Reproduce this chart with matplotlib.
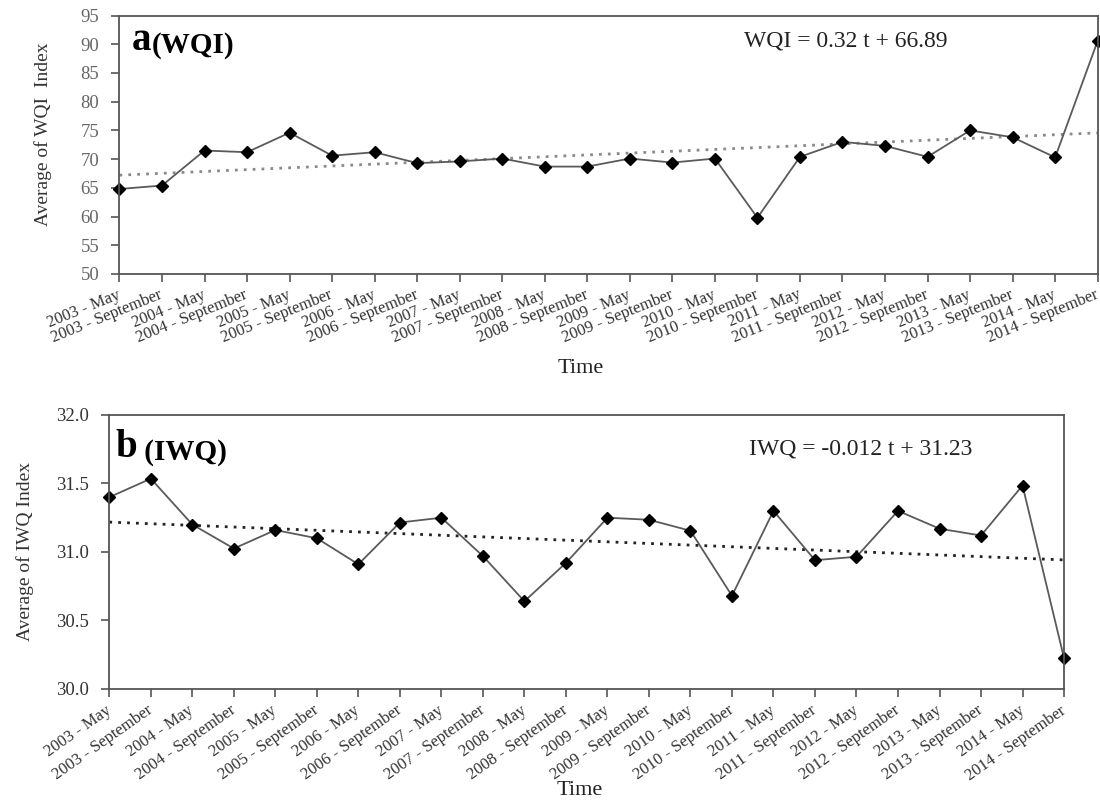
"""Average WQI and IWQ index per sampling campaign, 2003-2014, with linear trends."""

import matplotlib
matplotlib.use("Agg")
import matplotlib.pyplot as plt
import numpy as np
from matplotlib.transforms import ScaledTranslation

plt.rcParams["font.family"] = ["Liberation Serif", "DejaVu Serif"]

years = [str(y) for y in range(2003, 2015)]
periods = [f"{y} - {m}" for y in years for m in ("May", "September")]

wqi = [64.8, 65.4, 71.5, 71.2, 74.6, 70.6, 71.2, 69.3, 69.6, 70.1, 68.7, 68.7,
       70.1, 69.4, 70.1, 59.8, 70.4, 73.0, 72.3, 70.4, 75.0, 73.8, 70.3, 90.6]
iwq = [31.40, 31.535, 31.20, 31.025, 31.16, 31.10, 30.91, 31.215, 31.25, 30.97, 30.64, 30.92,
       31.25, 31.235, 31.155, 30.68, 31.30, 30.94, 30.965, 31.30, 31.17, 31.12, 31.485, 30.225]

# trend coefficients as printed on the chart (t = 1..24)
wqi_slope, wqi_icpt = 0.32, 66.89
iwq_slope, iwq_icpt = -0.012, 31.23

spine_col = "#555555"
line_col = "#5a5a5a"


def panel(fig, ax, values, slope, icpt, trend_col, ylim, yticks, yfmt, ylabel,
          tag_big, tag_small, tag_pos, eq_text, eq_pos, rot, tick_col,
          ylab_pos, xlab_pos):
    t = np.arange(1, len(values) + 1)
    ax.plot(t, slope * t + icpt, ls=(0, (1, 2.2)), lw=2.0, color=trend_col, zorder=1)
    ax.plot(t, values, color=line_col, lw=1.3, marker="D", ms=6.5,
            mfc="black", mec="black", zorder=2, clip_on=False)
    ax.set_xlim(1, len(values))
    ax.set_ylim(*ylim)
    ax.set_yticks(yticks)
    ax.set_yticklabels([yfmt.format(v) for v in yticks], fontsize=13.5, color=tick_col)
    ax.set_xticks(t)
    ax.set_xticklabels(periods, rotation=rot, ha="right", va="center",
                       rotation_mode="anchor", fontsize=12, color="#333333")
    shift = ScaledTranslation(-4 / 72, 0, fig.dpi_scale_trans)
    for lab in ax.get_xticklabels():
        lab.set_transform(lab.get_transform() + shift)
    ax.tick_params(axis="both", direction="out", length=5.5, width=1.2, color=spine_col)
    ax.tick_params(axis="x", pad=9)
    ax.tick_params(axis="y", pad=9)
    for s in ax.spines.values():
        s.set_color(spine_col)
        s.set_linewidth(1.3)
    ax.set_ylabel(ylabel, fontsize=14, color="#333333")
    ax.yaxis.set_label_coords(*ylab_pos)
    ax.set_xlabel("Time", fontsize=16, color="#222222", va="center")
    ax.xaxis.set_label_coords(*xlab_pos)
    big = ax.text(tag_pos[0], tag_pos[1], tag_big, transform=ax.transAxes, fontsize=28,
                  fontweight="bold", va="baseline", ha="left")
    ax.annotate(tag_small, xy=(1, 0), xycoords=big, fontsize=21, fontweight="bold",
                va="bottom", ha="left")
    ax.text(eq_pos[0], eq_pos[1], eq_text, transform=ax.transAxes, fontsize=17,
            va="center", ha="left", color="#222222")
    ax.grid(False)


fig = plt.figure(figsize=(11, 8), dpi=100)
ax1 = fig.add_axes([0.1086, 0.6575, 0.8893, 0.3231])
ax2 = fig.add_axes([0.0994, 0.1388, 0.8679, 0.3425])

panel(fig, ax1, wqi, wqi_slope, wqi_icpt, "#8a8a8a", (50, 95), np.arange(50, 96, 5), "{:.0f}",
      "Average of WQI  Index", "a", "(WQI)", (0.0128, 0.866),
      "WQI = 0.32 t + 66.89", (0.638, 0.90), 22, "#666666", (-0.069, 0.54), (0.471, -0.364))
panel(fig, ax2, iwq, iwq_slope, iwq_icpt, "#222222", (30, 32), np.arange(30, 32.01, 0.5), "{:.1f}",
      "Average of IWQ Index", "b", " (IWQ)", (0.006, 0.845),
      "IWQ = -0.012 t + 31.23", (0.67, 0.876), 35, "#333333", (-0.079, 0.5), (0.493, -0.372))

fig.savefig("out.png", dpi=100)
